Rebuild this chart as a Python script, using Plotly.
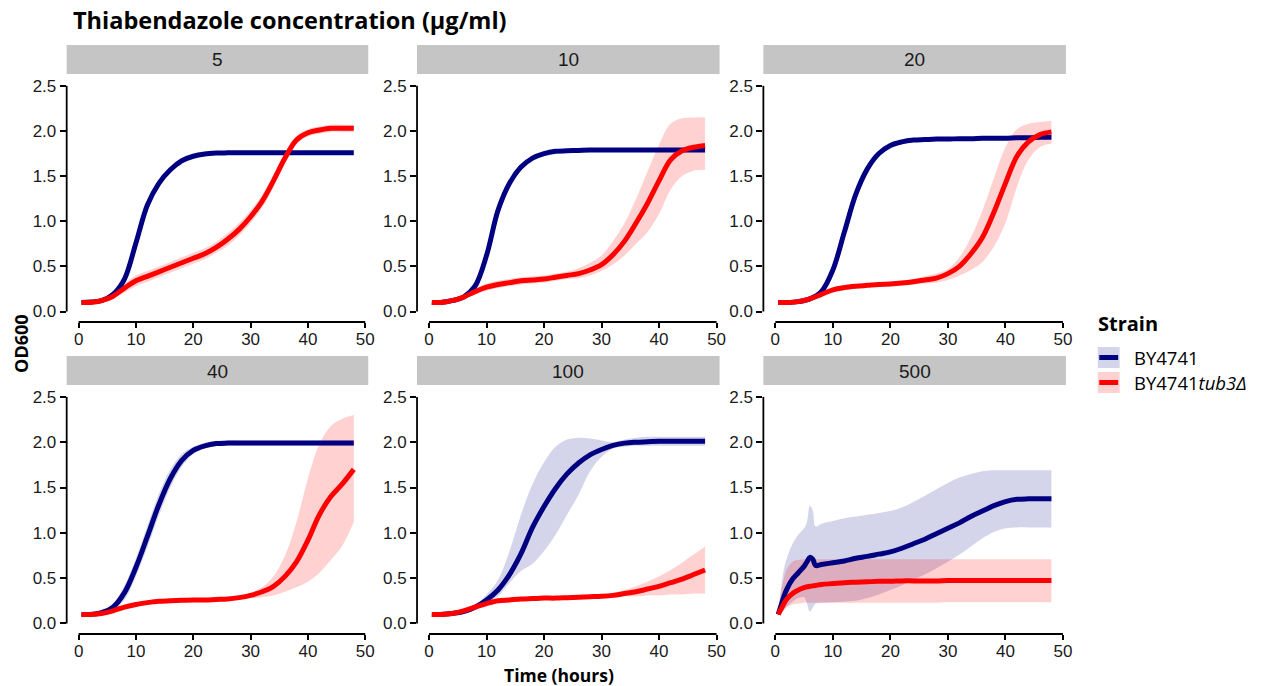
import plotly.graph_objects as go

W, H = 1267, 686

# Sampling times (hours)
hours = [0.5, 2, 4, 6, 8, 10, 12, 14, 16, 18, 20, 22, 24, 26, 28, 30, 32, 34, 36, 38, 40, 42, 44, 46, 48]
hours_500 = [0.5, 1, 1.5, 2, 3, 4, 5, 5.5, 6, 6.5, 7, 8, 10, 12, 14, 16, 18, 20, 22, 24, 26, 28,
             30, 32, 34, 36, 38, 40, 42, 44, 46, 48]

concentrations = ["5", "10", "20", "40", "100", "500"]
strain_names = ["BY4741", "BY4741<i>tub3Δ</i>"]

# ---- 5 µg/ml ----
wt_5 = [0.10, 0.105, 0.12, 0.19, 0.36, 0.76, 1.18, 1.42, 1.57, 1.67, 1.72, 1.745, 1.755, 1.758, 1.76,
        1.76, 1.76, 1.76, 1.76, 1.76, 1.76, 1.76, 1.76, 1.76, 1.76]
wt_5_lo = [0.09, 0.095, 0.11, 0.17, 0.33, 0.72, 1.14, 1.39, 1.55, 1.655, 1.71, 1.735, 1.745, 1.748, 1.75,
           1.75, 1.75, 1.75, 1.75, 1.75, 1.75, 1.75, 1.75, 1.75, 1.75]
wt_5_hi = [0.11, 0.115, 0.13, 0.21, 0.39, 0.80, 1.22, 1.45, 1.59, 1.685, 1.73, 1.755, 1.765, 1.768, 1.77,
           1.77, 1.77, 1.77, 1.77, 1.77, 1.77, 1.77, 1.77, 1.77, 1.77]
tub_5 = [0.10, 0.10, 0.12, 0.17, 0.26, 0.34, 0.39, 0.44, 0.49, 0.54, 0.59, 0.64, 0.71, 0.80, 0.91,
         1.05, 1.22, 1.45, 1.70, 1.90, 1.98, 2.01, 2.03, 2.03, 2.03]
tub_5_lo = [0.09, 0.09, 0.10, 0.14, 0.21, 0.28, 0.33, 0.38, 0.43, 0.48, 0.53, 0.58, 0.65, 0.73, 0.84,
            0.98, 1.15, 1.38, 1.64, 1.85, 1.94, 1.97, 1.99, 1.99, 1.99]
tub_5_hi = [0.11, 0.11, 0.14, 0.20, 0.31, 0.40, 0.45, 0.50, 0.55, 0.60, 0.65, 0.70, 0.77, 0.87, 0.98,
            1.12, 1.29, 1.52, 1.76, 1.95, 2.02, 2.05, 2.07, 2.07, 2.07]

# ---- 10 µg/ml ----
wt_10 = [0.10, 0.10, 0.12, 0.16, 0.28, 0.62, 1.12, 1.42, 1.60, 1.70, 1.75, 1.775, 1.78, 1.785, 1.79,
         1.79, 1.79, 1.79, 1.79, 1.79, 1.79, 1.79, 1.79, 1.79, 1.79]
wt_10_lo = [0.09, 0.09, 0.11, 0.14, 0.25, 0.58, 1.08, 1.39, 1.58, 1.68, 1.73, 1.755, 1.76, 1.765, 1.77,
            1.77, 1.77, 1.77, 1.77, 1.77, 1.77, 1.77, 1.77, 1.77, 1.77]
wt_10_hi = [0.11, 0.11, 0.13, 0.18, 0.31, 0.66, 1.16, 1.45, 1.62, 1.72, 1.77, 1.795, 1.80, 1.805, 1.81,
            1.81, 1.81, 1.81, 1.81, 1.81, 1.81, 1.81, 1.81, 1.81, 1.81]
tub_10 = [0.10, 0.10, 0.12, 0.16, 0.22, 0.27, 0.30, 0.32, 0.34, 0.35, 0.36, 0.38, 0.40, 0.42, 0.46,
          0.52, 0.63, 0.78, 0.98, 1.20, 1.45, 1.68, 1.78, 1.82, 1.84]
tub_10_lo = [0.09, 0.09, 0.11, 0.14, 0.19, 0.23, 0.26, 0.28, 0.30, 0.31, 0.32, 0.34, 0.36, 0.37, 0.40,
             0.45, 0.52, 0.62, 0.75, 0.88, 1.08, 1.35, 1.50, 1.56, 1.57]
tub_10_hi = [0.11, 0.11, 0.13, 0.18, 0.25, 0.31, 0.34, 0.36, 0.38, 0.39, 0.40, 0.42, 0.44, 0.48, 0.54,
             0.62, 0.78, 0.98, 1.25, 1.55, 1.85, 2.08, 2.14, 2.15, 2.15]

# ---- 20 µg/ml ----
wt_20 = [0.10, 0.10, 0.11, 0.14, 0.22, 0.46, 0.88, 1.30, 1.58, 1.75, 1.84, 1.88, 1.90, 1.905, 1.91,
         1.91, 1.915, 1.915, 1.92, 1.92, 1.92, 1.925, 1.925, 1.93, 1.93]
wt_20_lo = [0.09, 0.09, 0.10, 0.12, 0.19, 0.42, 0.84, 1.26, 1.55, 1.73, 1.82, 1.86, 1.88, 1.885, 1.89,
            1.89, 1.895, 1.895, 1.90, 1.90, 1.90, 1.905, 1.905, 1.91, 1.91]
wt_20_hi = [0.11, 0.11, 0.12, 0.16, 0.25, 0.50, 0.92, 1.34, 1.61, 1.77, 1.86, 1.90, 1.92, 1.925, 1.93,
            1.93, 1.935, 1.935, 1.94, 1.94, 1.94, 1.945, 1.945, 1.95, 1.95]
tub_20 = [0.10, 0.10, 0.11, 0.14, 0.19, 0.24, 0.265, 0.28, 0.29, 0.30, 0.305, 0.315, 0.33, 0.35, 0.37,
          0.42, 0.50, 0.64, 0.82, 1.10, 1.42, 1.72, 1.88, 1.96, 1.99]
tub_20_lo = [0.09, 0.09, 0.10, 0.12, 0.17, 0.22, 0.24, 0.26, 0.27, 0.28, 0.28, 0.29, 0.30, 0.31, 0.32,
             0.35, 0.40, 0.46, 0.55, 0.72, 0.98, 1.38, 1.68, 1.82, 1.86]
tub_20_hi = [0.11, 0.11, 0.12, 0.16, 0.21, 0.26, 0.29, 0.30, 0.31, 0.32, 0.33, 0.34, 0.36, 0.39, 0.42,
             0.47, 0.60, 0.82, 1.12, 1.48, 1.82, 2.02, 2.08, 2.10, 2.11]

# ---- 40 µg/ml ----
wt_40 = [0.10, 0.10, 0.12, 0.18, 0.34, 0.62, 0.96, 1.31, 1.60, 1.80, 1.91, 1.96, 1.985, 1.99, 1.99,
         1.99, 1.99, 1.99, 1.99, 1.99, 1.99, 1.99, 1.99, 1.99, 1.99]
wt_40_lo = [0.09, 0.09, 0.10, 0.14, 0.26, 0.52, 0.84, 1.19, 1.50, 1.73, 1.87, 1.93, 1.955, 1.96, 1.96,
            1.96, 1.96, 1.96, 1.96, 1.96, 1.96, 1.96, 1.96, 1.96, 1.96]
wt_40_hi = [0.11, 0.11, 0.14, 0.22, 0.42, 0.72, 1.08, 1.43, 1.70, 1.87, 1.95, 1.99, 2.015, 2.02, 2.02,
            2.02, 2.02, 2.02, 2.02, 2.02, 2.02, 2.02, 2.02, 2.02, 2.02]
tub_40 = [0.10, 0.10, 0.11, 0.14, 0.18, 0.21, 0.23, 0.245, 0.25, 0.255, 0.26, 0.26, 0.265, 0.27, 0.285,
          0.31, 0.35, 0.41, 0.52, 0.68, 0.92, 1.20, 1.40, 1.54, 1.70]
tub_40_lo = [0.09, 0.09, 0.10, 0.13, 0.17, 0.20, 0.22, 0.235, 0.24, 0.245, 0.25, 0.25, 0.255, 0.26, 0.27,
             0.28, 0.29, 0.31, 0.35, 0.40, 0.46, 0.56, 0.70, 0.86, 1.12]
tub_40_hi = [0.11, 0.11, 0.12, 0.15, 0.19, 0.22, 0.24, 0.255, 0.26, 0.265, 0.27, 0.27, 0.28, 0.29, 0.31,
             0.34, 0.40, 0.52, 0.75, 1.12, 1.60, 1.98, 2.18, 2.26, 2.30]

# ---- 100 µg/ml ----
wt_100 = [0.10, 0.10, 0.11, 0.13, 0.18, 0.26, 0.37, 0.54, 0.77, 1.06, 1.29, 1.49, 1.65, 1.77, 1.86,
          1.92, 1.965, 1.99, 2.00, 2.005, 2.01, 2.01, 2.01, 2.01, 2.01]
wt_100_lo = [0.09, 0.09, 0.10, 0.12, 0.16, 0.22, 0.30, 0.45, 0.58, 0.66, 0.80, 0.98, 1.20, 1.42, 1.68,
             1.84, 1.93, 1.95, 1.96, 1.96, 1.96, 1.96, 1.96, 1.96, 1.96]
wt_100_hi = [0.11, 0.11, 0.12, 0.14, 0.20, 0.32, 0.48, 0.80, 1.20, 1.54, 1.78, 1.95, 2.03, 2.05, 2.04,
             2.02, 2.00, 2.03, 2.05, 2.06, 2.06, 2.06, 2.06, 2.06, 2.06]
tub_100 = [0.10, 0.10, 0.11, 0.14, 0.18, 0.22, 0.25, 0.26, 0.27, 0.275, 0.28, 0.28, 0.285, 0.29, 0.295,
           0.30, 0.31, 0.33, 0.35, 0.38, 0.41, 0.45, 0.49, 0.54, 0.59]
tub_100_lo = [0.09, 0.09, 0.10, 0.13, 0.17, 0.21, 0.24, 0.25, 0.26, 0.265, 0.27, 0.27, 0.275, 0.28, 0.285,
              0.29, 0.29, 0.30, 0.30, 0.31, 0.31, 0.32, 0.32, 0.33, 0.33]
tub_100_hi = [0.11, 0.11, 0.12, 0.15, 0.19, 0.23, 0.26, 0.27, 0.28, 0.285, 0.29, 0.29, 0.295, 0.30, 0.31,
              0.32, 0.34, 0.37, 0.41, 0.46, 0.52, 0.59, 0.67, 0.76, 0.85]

# ---- 500 µg/ml ----
wt_500 = [0.10, 0.20, 0.30, 0.38, 0.49, 0.56, 0.63, 0.68, 0.73, 0.71, 0.64, 0.65, 0.67, 0.69, 0.72, 0.74,
          0.765, 0.79, 0.83, 0.88, 0.93, 0.99, 1.05, 1.11, 1.18, 1.24, 1.30, 1.345, 1.37, 1.375, 1.375, 1.375]
wt_500_lo = [0.10, 0.12, 0.15, 0.19, 0.24, 0.28, 0.29, 0.22, 0.13, 0.17, 0.22, 0.23, 0.235, 0.24, 0.25, 0.28,
             0.32, 0.37, 0.42, 0.48, 0.54, 0.61, 0.68, 0.76, 0.85, 0.94, 1.01, 1.05, 1.06, 1.06, 1.06, 1.06]
wt_500_hi = [0.11, 0.40, 0.60, 0.72, 0.88, 0.98, 1.05, 1.12, 1.30, 1.25, 1.07, 1.10, 1.13, 1.16, 1.18, 1.20,
             1.22, 1.24, 1.28, 1.34, 1.41, 1.48, 1.55, 1.61, 1.65, 1.68, 1.69, 1.69, 1.69, 1.69, 1.69, 1.69]
tub_500 = [0.10, 0.16, 0.22, 0.27, 0.33, 0.37, 0.395, 0.405, 0.41, 0.415, 0.42, 0.43, 0.44, 0.45, 0.455,
           0.46, 0.465, 0.465, 0.47, 0.47, 0.47, 0.47, 0.475, 0.475, 0.475, 0.475, 0.475, 0.475, 0.475,
           0.475, 0.475, 0.475]
tub_500_lo = [0.09, 0.12, 0.15, 0.18, 0.21, 0.22, 0.23, 0.23, 0.23, 0.23, 0.23, 0.23, 0.23, 0.23, 0.23,
              0.23, 0.23, 0.23, 0.23, 0.23, 0.23, 0.23, 0.235, 0.235, 0.235, 0.235, 0.235, 0.235, 0.235,
              0.235, 0.235, 0.235]
tub_500_hi = [0.12, 0.35, 0.50, 0.60, 0.68, 0.70, 0.71, 0.71, 0.71, 0.71, 0.71, 0.71, 0.71, 0.71, 0.71,
              0.71, 0.71, 0.71, 0.71, 0.71, 0.71, 0.71, 0.71, 0.71, 0.71, 0.71, 0.71, 0.71, 0.71,
              0.71, 0.71, 0.71]

panels = {
    "5": (hours, (wt_5, wt_5_lo, wt_5_hi), (tub_5, tub_5_lo, tub_5_hi)),
    "10": (hours, (wt_10, wt_10_lo, wt_10_hi), (tub_10, tub_10_lo, tub_10_hi)),
    "20": (hours, (wt_20, wt_20_lo, wt_20_hi), (tub_20, tub_20_lo, tub_20_hi)),
    "40": (hours, (wt_40, wt_40_lo, wt_40_hi), (tub_40, tub_40_lo, tub_40_hi)),
    "100": (hours, (wt_100, wt_100_lo, wt_100_hi), (tub_100, tub_100_lo, tub_100_hi)),
    "500": (hours_500, (wt_500, wt_500_lo, wt_500_hi), (tub_500, tub_500_lo, tub_500_hi)),
}

x_ticks = [0, 10, 20, 30, 40, 50]
y_ticks = [0.0, 0.5, 1.0, 1.5, 2.0, 2.5]

LINE_COLORS = ["#000080", "#ff0000"]
FILL_COLORS = ["rgba(0,0,128,0.17)", "rgba(255,0,0,0.18)"]
TICK_FONT = dict(family="Liberation Sans, Arial, sans-serif", size=17, color="#1a1a1a")
TITLE_FAMILY = "Open Sans, Noto Sans, sans-serif"

# Panel geometry (pixels)
col_left = [67, 419, 767]
col_right = [370, 723, 1071]
row_top = [75, 386]
row_bottom = [322, 634]
strip_top = [45, 356]
x_range = [-2.08, 50.52]
y_range = [-0.116, 2.62]


def px_x(p):
    return p / W


def px_y(p):
    return 1 - p / H


fig = go.Figure()
layout = dict(shapes=[], annotations=[])

for i, conc in enumerate(concentrations):
    r, c = divmod(i, 3)
    n = i + 1
    xa = "x" if n == 1 else f"x{n}"
    ya = "y" if n == 1 else f"y{n}"
    t, wt, tub = panels[conc]

    # ribbons first, then mean lines on top
    for k, series in enumerate((wt, tub)):
        mean, lo, hi = series
        fig.add_trace(go.Scatter(x=t, y=lo, mode="lines", line=dict(width=0, shape="spline"),
                                 xaxis=xa, yaxis=ya, showlegend=False, hoverinfo="skip"))
        fig.add_trace(go.Scatter(x=t, y=hi, mode="lines", line=dict(width=0, shape="spline"),
                                 fill="tonexty", fillcolor=FILL_COLORS[k],
                                 xaxis=xa, yaxis=ya, showlegend=False, hoverinfo="skip"))
    for k, series in enumerate((wt, tub)):
        mean = series[0]
        fig.add_trace(go.Scatter(x=t, y=mean, mode="lines",
                                 line=dict(width=5, color=LINE_COLORS[k], shape="spline"),
                                 xaxis=xa, yaxis=ya, showlegend=False,
                                 name=strain_names[k]))

    xkey = "xaxis" if n == 1 else f"xaxis{n}"
    ykey = "yaxis" if n == 1 else f"yaxis{n}"
    layout[xkey] = dict(domain=[px_x(col_left[c]), px_x(col_right[c])], anchor=ya,
                        range=x_range, showgrid=False, zeroline=False, showline=False,
                        tickmode="array", tickvals=x_ticks, ticks="outside", ticklen=5,
                        tickwidth=1.6, tickcolor="black", tickfont=TICK_FONT,
                        ticklabelstandoff=-3)
    layout[ykey] = dict(domain=[px_y(row_bottom[r]), px_y(row_top[r])], anchor=xa,
                        range=y_range, showgrid=False, zeroline=False, showline=False,
                        tickmode="array", tickvals=y_ticks, ticktext=[f"{v:.1f}" for v in y_ticks],
                        ticks="outside", ticklen=6, tickwidth=1.6, tickcolor="black",
                        tickfont=TICK_FONT)

    # truncated axis lines spanning the tick range only
    layout["shapes"].append(dict(type="line", xref=f"{xa} domain", yref=ya, x0=0, x1=0,
                                 y0=0, y1=2.5, line=dict(color="black", width=1.8)))
    layout["shapes"].append(dict(type="line", xref=xa, yref=f"{ya} domain", x0=0, x1=50,
                                 y0=0, y1=0, line=dict(color="black", width=1.8)))

    # facet strip
    layout["shapes"].append(dict(type="rect", xref="paper", yref="paper",
                                 x0=px_x(col_left[c]), x1=px_x(col_right[c]),
                                 y0=px_y(row_top[r] - 1), y1=px_y(strip_top[r]),
                                 fillcolor="#c5c5c5", line=dict(width=0), layer="below"))
    layout["annotations"].append(dict(text=conc, xref="paper", yref="paper",
                                      x=px_x((col_left[c] + col_right[c]) / 2),
                                      y=px_y((strip_top[r] + row_top[r]) / 2),
                                      showarrow=False, xanchor="center", yanchor="middle",
                                      font=dict(family="Liberation Sans, Arial, sans-serif",
                                                size=19, color="#1a1a1a")))

# figure title and axis titles
layout["annotations"] += [
    dict(text="<b>Thiabendazole concentration (µg/ml)</b>", xref="paper", yref="paper",
         x=px_x(71), y=px_y(20), xanchor="left", yanchor="middle", showarrow=False,
         font=dict(family=TITLE_FAMILY, size=23.5, color="black")),
    dict(text="<b>OD600</b>", xref="paper", yref="paper", x=px_x(21), y=px_y(343),
         textangle=-90, xanchor="center", yanchor="middle", showarrow=False,
         font=dict(family=TITLE_FAMILY, size=18, color="black")),
    dict(text="<b>Time (hours)</b>", xref="paper", yref="paper", x=px_x(562), y=px_y(674.5),
         xanchor="center", yanchor="middle", showarrow=False,
         font=dict(family=TITLE_FAMILY, size=17.5, color="black")),
    dict(text="<b>Strain</b>", xref="paper", yref="paper", x=px_x(1101), y=px_y(323),
         xanchor="left", yanchor="middle", showarrow=False,
         font=dict(family=TITLE_FAMILY, size=20, color="black")),
]

# legend keys: ribbon swatch with the line across it
key_centres = [357.5, 382.5]
for k, yc in enumerate(key_centres):
    layout["shapes"].append(dict(type="rect", xref="paper", yref="paper",
                                 x0=px_x(1103), x1=px_x(1125), y0=px_y(yc + 10.5), y1=px_y(yc - 10.5),
                                 fillcolor=FILL_COLORS[k], line=dict(width=0)))
    layout["shapes"].append(dict(type="line", xref="paper", yref="paper",
                                 x0=px_x(1104.5), x1=px_x(1123.5), y0=px_y(yc), y1=px_y(yc),
                                 line=dict(color=LINE_COLORS[k], width=5)))
    layout["annotations"].append(dict(text=strain_names[k], xref="paper", yref="paper",
                                      x=px_x(1137), y=px_y(yc), xanchor="left", yanchor="middle",
                                      showarrow=False,
                                      font=dict(family=TITLE_FAMILY, size=18.5, color="black")))

fig.update_layout(**layout)
fig.update_layout(width=W, height=H, autosize=False, margin=dict(l=0, r=0, t=0, b=0),
                  plot_bgcolor="white", paper_bgcolor="white", showlegend=False)

fig.write_html("out.html")
